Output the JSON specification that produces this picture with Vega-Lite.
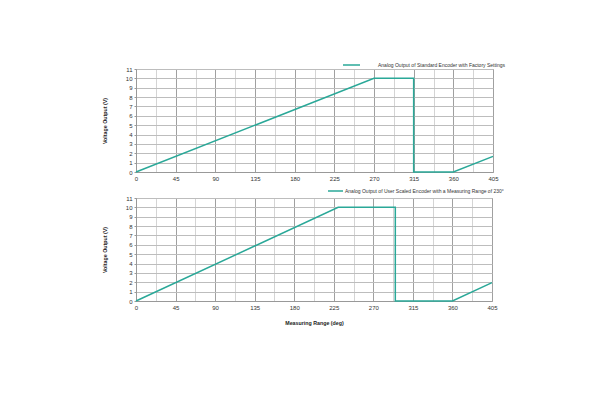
{
  "$schema": "https://vega.github.io/schema/vega-lite/v6.json",
  "padding": {"left": 101, "top": 55, "right": 10, "bottom": 10},
  "background": "white",
  "datasets": {
    "std": [
      {"series": "Analog Output of Standard Encoder with Factory Settings", "deg": 0, "v": 0},
      {"series": "Analog Output of Standard Encoder with Factory Settings", "deg": 270, "v": 10},
      {"series": "Analog Output of Standard Encoder with Factory Settings", "deg": 315, "v": 10},
      {"series": "Analog Output of Standard Encoder with Factory Settings", "deg": 315, "v": 0},
      {"series": "Analog Output of Standard Encoder with Factory Settings", "deg": 360, "v": 0},
      {"series": "Analog Output of Standard Encoder with Factory Settings", "deg": 405, "v": 1.67}
    ],
    "usr": [
      {"series": "Analog Output of User Scaled Encoder with a Measuring Range of  230°", "deg": 0, "v": 0},
      {"series": "Analog Output of User Scaled Encoder with a Measuring Range of  230°", "deg": 230, "v": 10},
      {"series": "Analog Output of User Scaled Encoder with a Measuring Range of  230°", "deg": 295, "v": 10},
      {"series": "Analog Output of User Scaled Encoder with a Measuring Range of  230°", "deg": 295, "v": 0},
      {"series": "Analog Output of User Scaled Encoder with a Measuring Range of  230°", "deg": 360, "v": 0},
      {"series": "Analog Output of User Scaled Encoder with a Measuring Range of  230°", "deg": 405, "v": 1.96}
    ]
  },
  "spacing": 26,
  "bounds": "flush",
  "vconcat": [
    {
      "width": 357,
      "height": 103,
      "data": {"name": "std"},
      "mark": {"type": "line", "strokeWidth": 1.5, "color": "#2aa898"},
      "encoding": {
        "x": {"field": "deg", "type": "quantitative", "scale": {"domain": [0, 405], "nice": false},
              "axis": {"title": null,
                       "values": [0, 22.5, 45, 67.5, 90, 112.5, 135, 157.5, 180, 202.5, 225, 247.5, 270, 292.5, 315, 337.5, 360, 382.5, 405],
                       "labelExpr": "datum.value % 45 === 0 ? datum.label : ''",
                       "gridColor": {"condition": {"test": "datum.value % 45 === 0", "value": "#a0a0a0"}, "value": "#d4d4d4"}}},
        "y": {"field": "v", "type": "quantitative", "scale": {"domain": [0, 11], "nice": false},
              "axis": {"title": "Voltage Output (V)", "values": [0, 1, 2, 3, 4, 5, 6, 7, 8, 9, 10, 11]}},
        "color": {"field": "series", "type": "nominal",
                  "scale": {"range": ["#2aa898"]},
                  "legend": {"legendX": 206, "legendY": -13.5, "symbolSize": 289, "labelOffset": 17}}
      }
    },
    {
      "width": 356,
      "height": 103,
      "data": {"name": "usr"},
      "mark": {"type": "line", "strokeWidth": 1.5, "color": "#2aa898"},
      "encoding": {
        "x": {"field": "deg", "type": "quantitative", "scale": {"domain": [0, 405], "nice": false},
              "axis": {"title": "Measuring Range (deg)",
                       "values": [0, 22.5, 45, 67.5, 90, 112.5, 135, 157.5, 180, 202.5, 225, 247.5, 270, 292.5, 315, 337.5, 360, 382.5, 405],
                       "labelExpr": "datum.value % 45 === 0 ? datum.label : ''",
                       "gridColor": {"condition": {"test": "datum.value % 45 === 0", "value": "#a0a0a0"}, "value": "#d4d4d4"}}},
        "y": {"field": "v", "type": "quantitative", "scale": {"domain": [0, 11], "nice": false},
              "axis": {"title": "Voltage Output (V)", "values": [0, 1, 2, 3, 4, 5, 6, 7, 8, 9, 10, 11]}},
        "color": {"field": "series", "type": "nominal",
                  "scale": {"range": ["#2aa898"]},
                  "legend": {"legendX": 191, "legendY": -15.5, "symbolSize": 225, "labelOffset": 1}}
      }
    }
  ],
  "resolve": {"scale": {"color": "independent"}},
  "config": {
    "font": "Liberation Sans",
    "view": {"stroke": "#999"},
    "axis": {
      "labelFont": "Liberation Sans",
      "labelFontSize": 6,
      "labelColor": "#333",
      "titleFont": "Liberation Sans",
      "titleFontSize": 5.3,
      "titleFontWeight": "bold",
      "titleColor": "#222",
      "domainColor": "#999",
      "tickColor": "#999",
      "tickSize": 2,
      "labelPadding": 2,
      "gridOpacity": 1
    },
    "axisX": {
      "labelFlush": false,
      "titlePadding": 10,
      "tickSize": 0,
      "labelPadding": 3
    },
    "axisY": {
      "gridColor": "#bdbdbd",
      "titlePadding": 18,
      "labelFlush": false
    },
    "legend": {
      "orient": "none",
      "symbolType": "stroke",
      "symbolStrokeWidth": 1.5,
      "labelFont": "Liberation Sans",
      "labelFontSize": 5,
      "labelColor": "#333",
      "labelLimit": 0,
      "title": null,
      "padding": 0
    }
  }
}
